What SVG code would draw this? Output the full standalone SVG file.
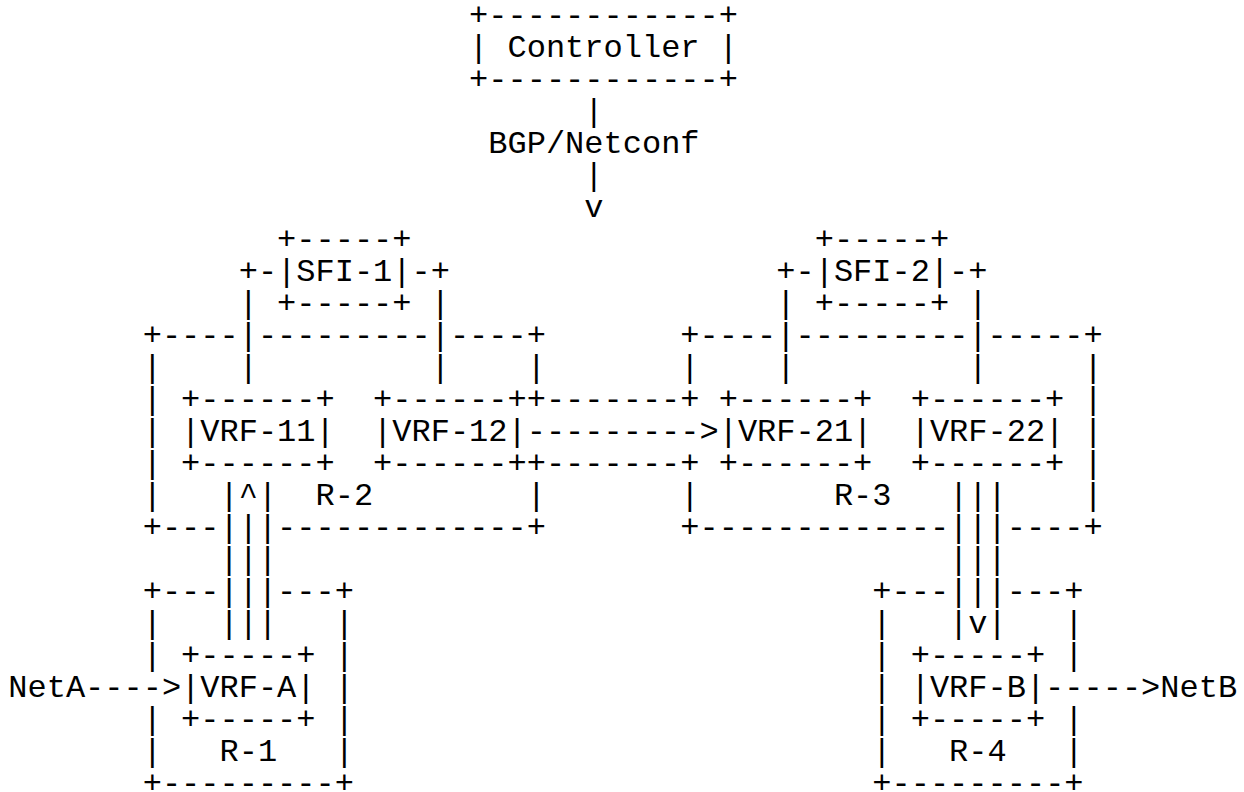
<svg xmlns="http://www.w3.org/2000/svg" width="1244" height="792" viewBox="0 0 1244 792">
<style>
text{font-family:"Liberation Mono","DejaVu Sans Mono",monospace;font-size:32px;fill:#000;white-space:pre}
</style>
<rect width="1244" height="792" fill="#fff"/>
<g id="controller">
<text x="469.1" y="24.5">+------------+</text>
<text x="469.1" y="56.5" xml:space="preserve">| Controller |</text>
<text x="469.1" y="88.5">+------------+</text>
</g>
<g id="sfi-1">
<text x="277.1" y="248.5">+-----+</text>
<text x="277.1" y="280.5">|SFI-1|</text>
<text x="277.1" y="312.5">+-----+</text>
</g>
<g id="sfi-2">
<text x="814.7" y="248.5">+-----+</text>
<text x="814.7" y="280.5">|SFI-2|</text>
<text x="814.7" y="312.5">+-----+</text>
</g>
<g id="r-2">
<text x="142.7" y="344.5">+----</text>
<text x="257.9" y="344.5">---------</text>
<text x="449.9" y="344.5">----+</text>
<text x="142.7" y="376.5">|</text><text x="526.7" y="376.5">|</text>
<text x="142.7" y="408.5">|</text>
<text x="142.7" y="440.5">|</text>
<text x="142.7" y="472.5">|</text>
<text x="142.7" y="504.5">|</text><text x="315.5" y="504.5">R-2</text><text x="526.7" y="504.5">|</text>
<text x="142.7" y="536.5">+---</text>
<text x="277.1" y="536.5">-------------+</text>
</g>
<g id="vrf-11">
<text x="181.1" y="408.5">+------+</text>
<text x="181.1" y="440.5">|VRF-11|</text>
<text x="181.1" y="472.5">+------+</text>
</g>
<g id="vrf-12">
<text x="373.1" y="408.5">+------+</text>
<text x="373.1" y="440.5">|VRF-12|</text>
<text x="373.1" y="472.5">+------+</text>
</g>
<g id="r-3">
<text x="680.3" y="344.5">+----</text>
<text x="795.5" y="344.5">---------</text>
<text x="987.5" y="344.5">-----+</text>
<text x="680.3" y="376.5">|</text><text x="1083.5" y="376.5">|</text>
<text x="1083.5" y="408.5">|</text>
<text x="1083.5" y="440.5">|</text>
<text x="1083.5" y="472.5">|</text>
<text x="680.3" y="504.5">|</text><text x="833.9" y="504.5">R-3</text><text x="1083.5" y="504.5">|</text>
<text x="680.3" y="536.5">+-------------</text>
<text x="1006.7" y="536.5">----+</text>
</g>
<g id="vrf-21">
<text x="718.7" y="408.5">+------+</text>
<text x="718.7" y="440.5">|VRF-21|</text>
<text x="718.7" y="472.5">+------+</text>
</g>
<g id="vrf-22">
<text x="910.7" y="408.5">+------+</text>
<text x="910.7" y="440.5">|VRF-22|</text>
<text x="910.7" y="472.5">+------+</text>
</g>
<g id="r-1">
<text x="142.7" y="600.5">+---</text>
<text x="277.1" y="600.5">---+</text>
<text x="142.7" y="632.5">|</text><text x="334.7" y="632.5">|</text>
<text x="142.7" y="664.5">|</text><text x="334.7" y="664.5">|</text>
<text x="334.7" y="696.5">|</text>
<text x="142.7" y="728.5">|</text><text x="334.7" y="728.5">|</text>
<text x="142.7" y="760.5">|</text><text x="219.5" y="760.5">R-1</text><text x="334.7" y="760.5">|</text>
<text x="142.7" y="792.5">+---------+</text>
</g>
<g id="vrf-a">
<text x="181.1" y="664.5">+-----+</text>
<text x="181.1" y="696.5">|VRF-A|</text>
<text x="181.1" y="728.5">+-----+</text>
</g>
<g id="r-4">
<text x="872.3" y="600.5">+---</text>
<text x="1006.7" y="600.5">---+</text>
<text x="872.3" y="632.5">|</text><text x="1064.3" y="632.5">|</text>
<text x="872.3" y="664.5">|</text><text x="1064.3" y="664.5">|</text>
<text x="872.3" y="696.5">|</text>
<text x="872.3" y="728.5">|</text><text x="1064.3" y="728.5">|</text>
<text x="872.3" y="760.5">|</text><text x="949.1" y="760.5">R-4</text><text x="1064.3" y="760.5">|</text>
<text x="872.3" y="792.5">+---------+</text>
</g>
<g id="vrf-b">
<text x="910.7" y="664.5">+-----+</text>
<text x="910.7" y="696.5">|VRF-B|</text>
<text x="910.7" y="728.5">+-----+</text>
</g>
<g id="neta"><text x="8.3" y="696.5">NetA</text></g>
<g id="netb"><text x="1160.3" y="696.5">NetB</text></g>
<g id="connectors">
<text x="584.3" y="120.5">|</text>
<text x="488.3" y="152.5">BGP/Netconf</text>
<text x="584.3" y="184.5">|</text>
<text x="584.3" y="216.5">v</text>
<text x="238.7" y="280.5">+-</text><text x="411.5" y="280.5">-+</text>
<text x="238.7" y="312.5">|</text><text x="430.7" y="312.5">|</text>
<text x="238.7" y="344.5">|</text><text x="430.7" y="344.5">|</text>
<text x="238.7" y="376.5">|</text><text x="430.7" y="376.5">|</text>
<text x="776.3" y="280.5">+-</text><text x="949.1" y="280.5">-+</text>
<text x="776.3" y="312.5">|</text><text x="968.3" y="312.5">|</text>
<text x="776.3" y="344.5">|</text><text x="968.3" y="344.5">|</text>
<text x="776.3" y="376.5">|</text><text x="968.3" y="376.5">|</text>
<text x="526.7" y="408.5">+-------+</text>
<text x="526.7" y="440.5">---------&gt;</text>
<text x="526.7" y="472.5">+-------+</text>
<text x="219.5" y="504.5">|^|</text>
<text x="219.5" y="536.5">|||</text>
<text x="219.5" y="568.5">|||</text>
<text x="219.5" y="600.5">|||</text>
<text x="219.5" y="632.5">|||</text>
<text x="949.1" y="504.5">|||</text>
<text x="949.1" y="536.5">|||</text>
<text x="949.1" y="568.5">|||</text>
<text x="949.1" y="600.5">|||</text>
<text x="949.1" y="632.5">|v|</text>
<text x="85.1" y="696.5">----&gt;</text>
<text x="1045.1" y="696.5">-----&gt;</text>
</g>
</svg>
